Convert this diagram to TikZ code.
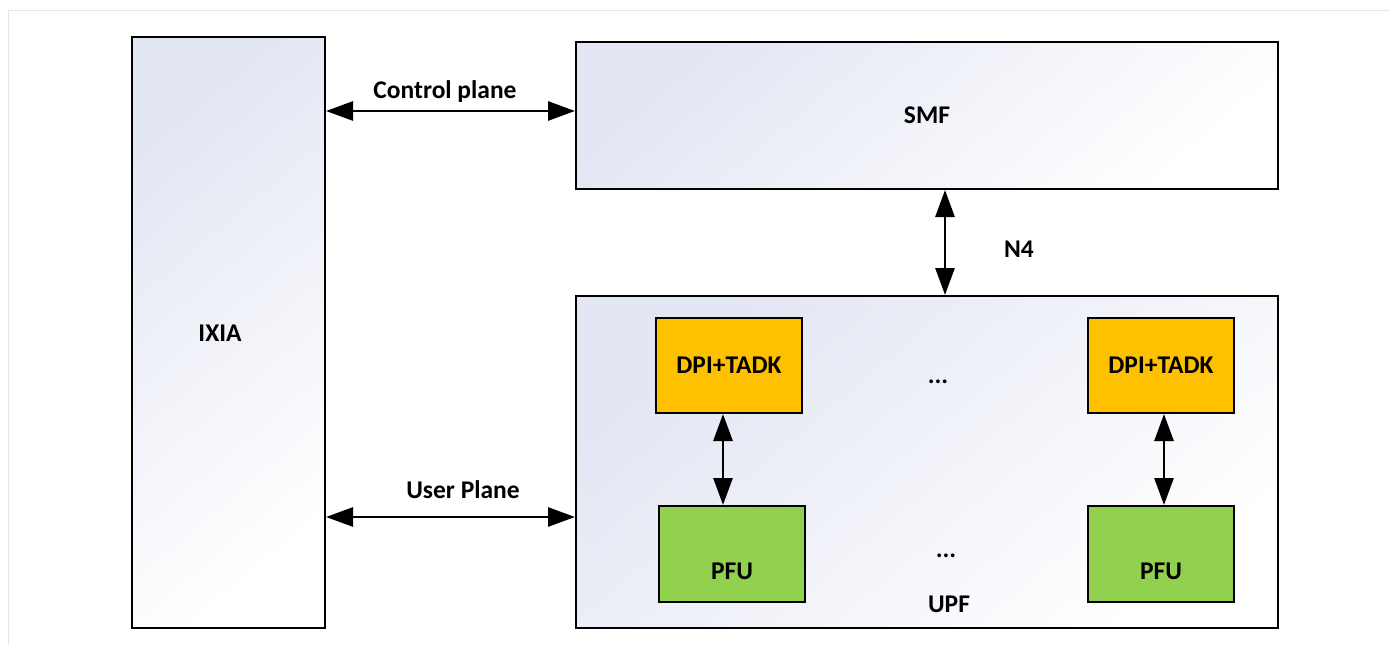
\documentclass[tikz,border=0pt]{standalone}
\usepackage{fontspec}
\setmainfont{Carlito}
\usetikzlibrary{arrows.meta}
\definecolor{lav}{HTML}{E3E6F3}
\definecolor{dpiorange}{HTML}{FFC000}
\definecolor{pfugreen}{HTML}{92D050}
\begin{document}
\begin{tikzpicture}[x=1pt,y=-1pt,
  font=\fontsize{25.5}{30}\selectfont\bfseries,
  box/.style={draw=black,line width=2pt,rectangle,inner sep=0pt},
  grad/.style={box,shading=axis,top color=lav,bottom color=white,shading angle=40},
  dpibox/.style={box,fill=dpiorange,minimum width=146pt,minimum height=95pt},
  pfubox/.style={box,fill=pfugreen,minimum width=146pt,minimum height=96pt},
  arr/.style={line width=2.8pt,{Triangle[length=27pt,width=19pt]}-{Triangle[length=27pt,width=19pt]}},
  txt/.style={inner sep=0pt}]
\useasboundingbox (0,0) rectangle (1390,645);
\draw[black!10,line width=1pt] (8,645) -- (8,10) -- (1390,10);
\node[grad,minimum width=193pt,minimum height=591pt] (ixia) at (228.5,332.5) {};
\node[txt] (ixialbl) at (220,333) {IXIA};
\node[grad,minimum width=702pt,minimum height=147pt] (smf) at (927,115.5) {SMF};
\node[grad,minimum width=702pt,minimum height=332pt] (upf) at (927,462) {};
\node[txt] (upflbl) at (949,604) {UPF};
\node[dpibox] (dpil) at (729,365.5) {DPI+TADK};
\node[dpibox] (dpir) at (1161,365.5) {DPI+TADK};
\node[pfubox,label={[yshift=-17pt]center:PFU}] (pful) at (732,554) {};
\node[pfubox,label={[yshift=-17pt]center:PFU}] (pfur) at (1161,554) {};
\node[txt] (dots1) at (938,382) {...};
\node[txt] (dots2) at (946,556) {...};
\draw[arr] (ixia.east |- 0,111) -- (smf.west |- 0,111);
\node[txt] (cplbl) at (445,92) {Control plane};
\draw[arr] (ixia.east |- 0,517) -- (upf.west |- 0,517);
\node[txt] (uplbl) at (463,490) {User Plane};
\draw[arr] (smf.south -| 945,0) -- (upf.north -| 945,0);
\node[txt] (n4lbl) at (1019,249) {N4};
\draw[arr] (dpil.south -| 723,0) -- (pful.north -| 723,0);
\draw[arr] (dpir.south -| 1164,0) -- (pfur.north -| 1164,0);
\end{tikzpicture}
\end{document}
